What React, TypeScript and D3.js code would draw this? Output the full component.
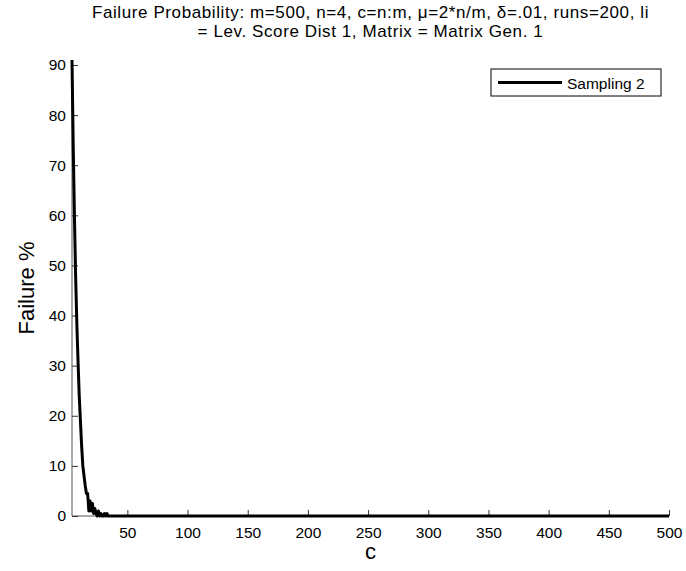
import React, { useEffect, useRef } from 'react';
import * as d3 from 'd3';

const WIDTH = 686;
const HEIGHT = 571;
const MARGIN = { top: 60, right: 17, bottom: 55, left: 72 };

// failure % against c (c = n:m); flat at zero after c = 35
const C_VALUES = [4, 5, 6, 7, 8, 9, 10, 11, 12, 13, 14, 15, 16, 17, 18, 19, 20, 21, 22, 23, 24, 25, 26, 27, 28, 29, 30, 31, 32, 33, 34, 35, 500];
const FAILURE = [91, 74, 60, 48, 38.5, 31, 24, 19, 14, 10, 8, 6, 4.5, 4.5, 1, 3, 1, 2.5, 0.5, 1.5, 0.5, 0, 1, 0, 0.5, 0, 0, 0.5, 0, 0.5, 0, 0, 0];

const X_TICKS = [50, 100, 150, 200, 250, 300, 350, 400, 450, 500];
const Y_TICKS = [0, 10, 20, 30, 40, 50, 60, 70, 80, 90];

const TITLE_LINES = [
  'Failure Probability: m=500, n=4, c=n:m, \u03bc=2*n/m, \u03b4=.01, runs=200, li',
  '= Lev. Score Dist 1, Matrix = Matrix Gen. 1',
];
const SERIES_NAME = 'Sampling 2';

const FONT = '"Liberation Sans", Arial, Helvetica, sans-serif';

const App: React.FC = () => {
  const svgRef = useRef<SVGSVGElement>(null);

  useEffect(() => {
    if (!svgRef.current) return;
    const svg = d3.select(svgRef.current);
    svg.selectAll('*').remove();

    const innerW = WIDTH - MARGIN.left - MARGIN.right;
    const innerH = HEIGHT - MARGIN.top - MARGIN.bottom;

    const x = d3.scaleLinear().domain([4, 500]).range([0, innerW]);
    const y = d3.scaleLinear().domain([0, 91]).range([innerH, 0]);

    const g = svg.append('g').attr('transform', `translate(${MARGIN.left},${MARGIN.top})`);

    // axes, ticks pointing inward like matlab
    const xAxis = d3.axisBottom(x).tickValues(X_TICKS).tickSize(-6).tickPadding(11).tickFormat(d => `${d}`);
    const gx = g.append('g').attr('transform', `translate(0,${innerH})`).call(xAxis);

    const yAxis = d3.axisLeft(y).tickValues(Y_TICKS).tickSize(-6).tickPadding(6).tickFormat(d => `${d}`);
    const gy = g.append('g').call(yAxis);

    [gx, gy].forEach(a => {
      a.select('.domain').attr('stroke', '#555').attr('stroke-width', 1);
      a.selectAll('.tick line').attr('stroke', '#333').attr('stroke-width', 1);
      a.selectAll('.tick text')
        .attr('fill', '#000')
        .style('font-family', FONT)
        .style('font-size', '15.5px');
    });
    // d3 draws the domain with outer ticks; redraw as plain lines
    gx.select('.domain').attr('d', `M0,0H${innerW}`);
    gy.select('.domain').attr('d', `M0,${innerH}V0`);

    const points = C_VALUES.map((c, i) => [c, FAILURE[i]] as [number, number]);
    const line = d3.line<[number, number]>().x(d => x(d[0])).y(d => y(d[1]));

    g.append('path')
      .datum(points)
      .attr('d', line)
      .attr('fill', 'none')
      .attr('stroke', '#000')
      .attr('stroke-width', 3)
      .attr('stroke-linejoin', 'round');

    // title
    const title = svg.append('text')
      .attr('text-anchor', 'middle')
      .attr('fill', '#000')
      .style('font-family', FONT)
      .style('font-size', '17px')
      .style('letter-spacing', '0.6px');
    TITLE_LINES.forEach((t, i) => {
      title.append('tspan')
        .attr('x', MARGIN.left + innerW / 2)
        .attr('y', 18 + i * 19)
        .text(t);
    });

    // axis labels
    svg.append('text')
      .attr('x', MARGIN.left + innerW / 2)
      .attr('y', 559)
      .attr('text-anchor', 'middle')
      .style('font-family', FONT)
      .style('font-size', '22px')
      .text('c');

    svg.append('text')
      .attr('transform', `translate(34,${MARGIN.top + innerH / 2}) rotate(-90)`)
      .attr('text-anchor', 'middle')
      .style('font-family', FONT)
      .style('font-size', '22px')
      .text('Failure %');

    // legend
    const lg = svg.append('g').attr('transform', 'translate(491,69)');
    lg.append('rect')
      .attr('width', 170)
      .attr('height', 27)
      .attr('fill', '#fff')
      .attr('stroke', '#000')
      .attr('stroke-width', 1);
    lg.append('line')
      .attr('x1', 7).attr('x2', 71)
      .attr('y1', 13.5).attr('y2', 13.5)
      .attr('stroke', '#000')
      .attr('stroke-width', 3);
    lg.append('text')
      .attr('x', 76)
      .attr('y', 19.5)
      .style('font-family', FONT)
      .style('font-size', '15.5px')
      .text(SERIES_NAME);
  }, []);

  return (
    <div style={{ position: 'absolute', left: 0, top: 0, background: '#fff' }}>
      <svg ref={svgRef} width={WIDTH} height={HEIGHT} style={{ display: 'block' }} />
    </div>
  );
};

export default App;
